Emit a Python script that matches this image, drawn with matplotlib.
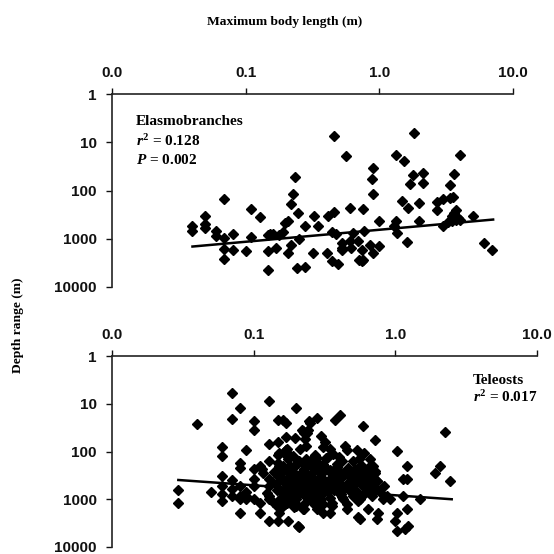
"""Depth range versus maximum body length for elasmobranchs and teleosts."""

import matplotlib

matplotlib.use("Agg")
import matplotlib.pyplot as plt

# Elasmobranches: maximum body length (m), depth range (m)
elasmo_length = [
    0.0395, 0.0395, 0.0497, 0.0497, 0.0497, 0.0596, 0.0596, 0.069, 0.069, 0.069,
    0.069, 0.080, 0.080, 0.100, 0.109, 0.109, 0.128, 0.147, 0.152, 0.161,
    0.147, 0.147, 0.169, 0.178, 0.190, 0.197, 0.206, 0.208, 0.220, 0.220,
    0.227, 0.232, 0.247, 0.250, 0.243, 0.277, 0.277, 0.317, 0.327, 0.349,
    0.407, 0.415, 0.440, 0.440, 0.490, 0.458, 0.458, 0.470, 0.522, 0.522,
    0.522, 0.560, 0.603, 0.603, 0.610, 0.640, 0.689, 0.700, 0.740, 0.750,
    0.740, 0.758, 0.770, 0.850, 0.880, 0.900, 0.900, 0.890, 1.00, 1.00,
    1.29, 1.33, 1.34, 1.36, 1.48, 1.52, 1.60, 1.63, 1.69, 1.79,
    1.83, 1.99, 1.99, 2.11, 2.11, 2.68, 2.68, 2.97, 3.00, 3.27,
    3.37, 3.37, 3.61, 3.53, 3.50, 3.65, 3.75, 3.50, 3.72, 3.90,
    4.00, 4.00, 5.00, 6.06, 7.00,
]
elasmo_depth = [
    550, 705, 343, 490, 600, 705, 890, 147, 970, 1630,
    2610, 787, 1740, 1830, 237, 922, 360, 830, 810, 780,
    1830, 4420, 1560, 830, 740, 470, 437, 2000, 1330, 186,
    121, 53, 292, 1000, 4080, 3890, 550, 1930, 332, 550,
    1930, 343, 740, 2960, 3320, 7.6, 283, 787, 1200, 1560,
    1740, 19.3, 230, 1140, 1560, 760, 1140, 2750, 2960, 2750,
    1680, 237, 675, 1330, 59, 33.6, 121, 1930, 1440, 437,
    550, 18.7, 422, 760, 167, 24.5, 1170, 230, 72.7, 48,
    6.5, 180, 422, 44, 69, 175, 258, 147, 550, 457,
    78.7, 142, 46.4, 135, 343, 292, 250, 437, 400, 370,
    400, 18.7, 343, 1200, 1680,
]
elasmo_fit_length = [0.040, 7.1]
elasmo_fit_depth = [1450, 400]

# Teleosts: maximum body length (m), depth range (m)
teleo_length = [
    0.0294, 0.0294, 0.0396, 0.0497, 0.0594, 0.0594, 0.0594, 0.0594, 0.0594, 0.0594,
    0.070, 0.070, 0.070, 0.070, 0.070, 0.080, 0.080, 0.080, 0.080, 0.080,
    0.080, 0.080, 0.089, 0.089, 0.089, 0.089, 0.100, 0.100, 0.100, 0.100,
    0.100, 0.100, 0.110, 0.114, 0.117, 0.110, 0.110, 0.129, 0.129, 0.129,
    0.129, 0.129, 0.129, 0.129, 0.129, 0.149, 0.149, 0.149, 0.152, 0.149,
    0.152, 0.149, 0.146, 0.152, 0.146, 0.152, 0.149, 0.169, 0.169, 0.169,
    0.172, 0.176, 0.172, 0.172, 0.176, 0.172, 0.172, 0.176, 0.169, 0.190,
    0.195, 0.200, 0.190, 0.199, 0.200, 0.200, 0.210, 0.215, 0.227, 0.227,
    0.218, 0.230, 0.236, 0.236, 0.236, 0.240, 0.236, 0.240, 0.238, 0.244,
    0.162, 0.250, 0.278, 0.375, 0.406, 0.594, 0.718, 1.02, 2.24, 1.20,
    1.14, 1.20, 2.07, 1.90, 2.43, 0.224, 0.243, 0.300, 0.320, 0.310,
    0.345, 0.365, 0.440, 0.453, 0.533, 0.550, 0.660, 0.718, 0.737, 0.660,
    0.580, 0.196, 0.212, 0.171, 0.180, 0.278, 0.250, 0.264, 0.200, 0.162,
    0.310, 0.345, 0.385, 0.429, 0.478, 0.505, 0.562, 0.627, 0.680, 0.294,
    0.236, 0.212, 0.180, 0.157, 0.190, 0.264, 0.345, 0.406, 0.453, 0.365,
    0.310, 0.250, 0.533, 0.594, 0.212, 0.171, 0.153, 0.162, 0.190, 0.196,
    0.206, 0.224, 0.264, 0.278, 0.300, 0.310, 0.345, 0.355, 0.429, 0.453,
    0.505, 0.547, 0.562, 0.644, 0.737, 0.757, 0.920, 1.02, 0.990, 1.20,
    1.02, 1.17, 1.23, 1.49, 1.14, 0.867, 0.820, 0.406, 0.562, 0.680,
    0.160, 0.185, 0.205, 0.225, 0.255, 0.285, 0.315, 0.335, 0.360, 0.395,
    0.420, 0.470, 0.520, 0.570, 0.610, 0.650, 0.700, 0.175, 0.215, 0.245,
    0.270, 0.300, 0.330, 0.355, 0.390, 0.430, 0.480, 0.540, 0.600, 0.640,
    0.690, 0.165, 0.195, 0.230, 0.260, 0.290, 0.320, 0.350, 0.380, 0.410,
    0.460, 0.500, 0.560, 0.620, 0.670, 0.720, 0.270, 0.400, 0.500, 0.600,
    0.135, 0.140, 0.145, 0.155, 0.158, 0.163, 0.168, 0.180, 0.183, 0.188,
    0.193, 0.203, 0.208, 0.213, 0.220, 0.228, 0.233, 0.248, 0.252, 0.258,
    0.265, 0.275, 0.282, 0.288, 0.295, 0.305, 0.312, 0.325, 0.338, 0.348,
    0.362, 0.372, 0.385, 0.398, 0.415, 0.425, 0.445, 0.465, 0.485, 0.515,
    0.530, 0.555, 0.585, 0.615, 0.630, 0.675, 0.710, 0.745, 0.780, 0.830,
    0.125, 0.138, 0.152, 0.166, 0.178, 0.192, 0.207, 0.222, 0.240, 0.262,
    0.285, 0.308, 0.333, 0.360, 0.390, 0.420, 0.455, 0.495, 0.545, 0.600,
]
teleo_depth = [
    650, 1170, 26.5, 705, 80, 125, 327, 530, 790, 1090,
    6.0, 20.5, 395, 620, 850, 12.3, 172, 219, 530, 850,
    1000, 1960, 94, 720, 1000, 850, 23.4, 35, 237, 380,
    530, 1000, 203, 237, 277, 1910, 1170, 8.9, 68, 160,
    380, 530, 850, 1000, 2830, 21.5, 64, 116, 107, 172,
    203, 327, 450, 620, 1390, 1910, 2830, 25.3, 49.5, 91,
    125, 147, 237, 380, 530, 1000, 1170, 2830, 91, 125,
    203, 327, 720, 12.3, 1000, 1390, 3770, 530, 1620, 41,
    35, 56, 78, 147, 203, 327, 395, 1000, 41, 23.4,
    21.5, 25, 20, 21.5, 17, 29, 58, 98, 40, 200,
    383, 383, 200, 278, 415, 38, 36, 47, 63, 80,
    88, 115, 77, 95, 95, 147, 147, 278, 415, 202,
    240, 53, 88, 90, 127, 140, 172, 214, 185, 202,
    185, 240, 185, 278, 278, 415, 383, 415, 383, 383,
    330, 300, 300, 383, 450, 415, 383, 355, 527, 527,
    527, 527, 278, 300, 726, 690, 1000, 1377, 1000, 1200,
    3590, 1610, 1170, 1610, 1000, 1896, 1896, 1377, 1000, 1610,
    850, 2300, 2610, 1610, 2610, 1896, 1000, 1896, 2800, 1610,
    4570, 4300, 3590, 1000, 850, 850, 1000, 790, 1000, 850,
    260, 330, 160, 230, 300, 250, 200, 130, 300, 240,
    160, 330, 230, 190, 320, 250, 200, 600, 480, 620,
    560, 700, 600, 480, 650, 560, 620, 700, 560, 650,
    500, 420, 300, 180, 420, 360, 420, 250, 460, 330,
    450, 360, 300, 260, 300, 250, 120, 130, 160, 110,
    440, 270, 650, 360, 880, 240, 470, 590, 210, 760,
    340, 540, 160, 690, 430, 260, 880, 510, 150, 720,
    390, 610, 170, 830, 450, 280, 690, 140, 530, 920,
    350, 640, 210, 480, 760, 330, 560, 220, 700, 470,
    290, 820, 510, 360, 640, 230, 560, 410, 700, 520,
    750, 1150, 290, 1250, 580, 1450, 380, 1300, 660, 1150,
    870, 1250, 720, 1180, 580, 900, 1250, 680, 1100, 780,
]
teleo_fit_length = [0.0294, 2.50]
teleo_fit_depth = [395, 1000]

X_TICKS = [0.01, 0.1, 1, 10]
X_TICK_LABELS = ["0.0", "0.1", "1.0", "10.0"]
Y_TICKS = [1, 10, 100, 1000, 10000]
Y_TICK_LABELS = ["1", "10", "100", "1000", "10000"]

plt.rcParams.update(
    {
        "font.family": "Liberation Sans",
        "mathtext.fontset": "custom",
        "mathtext.rm": "Liberation Serif:bold",
        "mathtext.it": "Liberation Serif:bold:italic",
        "mathtext.bf": "Liberation Serif:bold",
    }
)

W = 554.0
fig = plt.figure(figsize=(5.54, 5.54), dpi=100)
ax_top = fig.add_axes([112 / W, 1 - 287 / W, 401 / W, 193 / W])
ax_bot = fig.add_axes([112 / W, 1 - 547 / W, 425 / W, 191 / W])

SERIF = dict(family="Liberation Serif", fontweight="bold", fontsize=11)
LABEL = dict(family="Liberation Serif", fontweight="bold", fontsize=9.7)


def style_axis(ax):
    ax.set_xscale("log")
    ax.set_yscale("log")
    ax.set_xlim(0.01, 10)
    ax.set_ylim(10000, 1)
    ax.xaxis.tick_top()
    ax.set_xticks(X_TICKS)
    ax.set_xticklabels(X_TICK_LABELS)
    ax.set_yticks(Y_TICKS)
    ax.set_yticklabels(Y_TICK_LABELS)
    ax.minorticks_off()
    ax.tick_params(axis="x", direction="out", length=4, width=1, pad=6,
                   labelsize=11, colors="#111111")
    ax.tick_params(axis="y", direction="out", length=4, width=1, pad=7,
                   labelsize=11, colors="#111111")
    for lab in ax.get_xticklabels() + ax.get_yticklabels():
        lab.set_fontweight("bold")
    ax.spines[["bottom", "right"]].set_visible(False)
    for side in ("top", "left"):
        ax.spines[side].set_linewidth(1.2)
        ax.spines[side].set_color("#222222")


style_axis(ax_top)
style_axis(ax_bot)

ax_top.plot(elasmo_length, elasmo_depth, linestyle="none", marker="D",
            markersize=4.6, color="black")
ax_top.plot(elasmo_fit_length, elasmo_fit_depth, color="black", linewidth=1.8)

ax_bot.plot(teleo_length, teleo_depth, linestyle="none", marker="D",
            markersize=4.6, color="black")
ax_bot.plot(teleo_fit_length, teleo_fit_depth, color="black", linewidth=1.8)

ax_top.text(0.06, 0.855, "Elasmobranches", transform=ax_top.transAxes, va="center", **SERIF)
ax_top.text(0.06, 0.756, r"$r^2$ = 0.128", transform=ax_top.transAxes, va="center", **SERIF)
ax_top.text(0.06, 0.658, r"$P$ = 0.002", transform=ax_top.transAxes, va="center", **SERIF)

ax_bot.text(0.849, 0.874, "Teleosts", transform=ax_bot.transAxes, va="center", **SERIF)
ax_bot.text(0.849, 0.785, r"$r^2$ = 0.017", transform=ax_bot.transAxes, va="center", **SERIF)

fig.text(285 / W, 1 - 22 / W, "Maximum body length (m)", ha="center", va="center", **LABEL)
fig.text(18 / W, 1 - 325 / W, "Depth range (m)", ha="center", va="center",
         rotation=90, **LABEL)

fig.savefig("out.png", dpi=100, facecolor="white")
